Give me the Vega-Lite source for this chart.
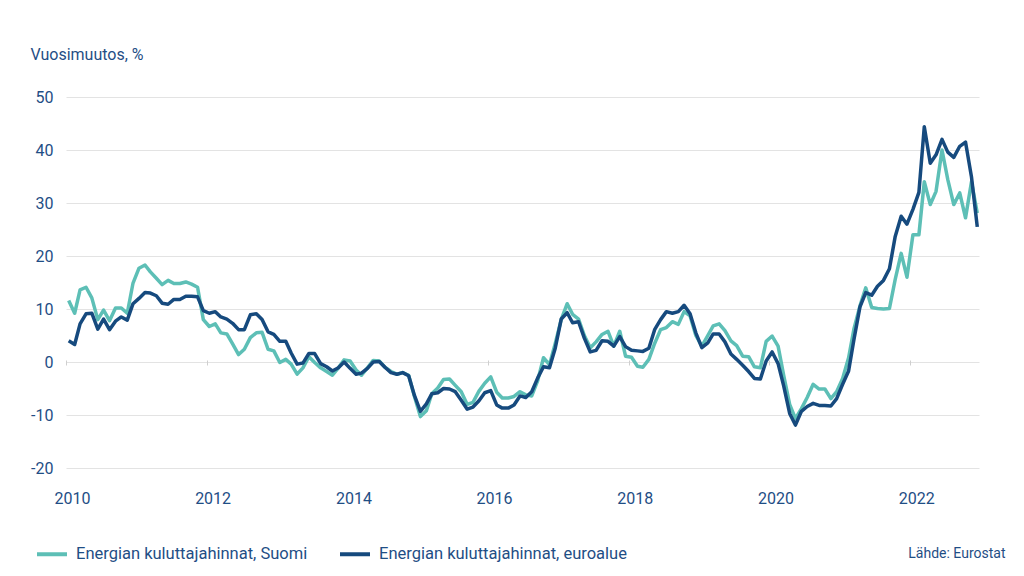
{
  "$schema": "https://vega.github.io/schema/vega-lite/v6.json",
  "width": 913,
  "height": 371,
  "autosize": {"type": "none"},
  "padding": {"left": 66, "top": 97, "right": 45, "bottom": 108},
  "background": "white",
  "config": {"font": "Roboto", "view": {"stroke": null}},
  "data": {"values": [
    {"d":"2010-01-15","fi":11.6,"ea":4.0},{"d":"2010-02-15","fi":9.2,"ea":3.3},{"d":"2010-03-15","fi":13.6,"ea":7.2},{"d":"2010-04-15","fi":14.1,"ea":9.1},{"d":"2010-05-15","fi":12.1,"ea":9.2},{"d":"2010-06-15","fi":8.0,"ea":6.2},{"d":"2010-07-15","fi":9.8,"ea":8.1},{"d":"2010-08-15","fi":7.8,"ea":6.1},{"d":"2010-09-15","fi":10.2,"ea":7.7},{"d":"2010-10-15","fi":10.2,"ea":8.5},{"d":"2010-11-15","fi":9.2,"ea":7.9},{"d":"2010-12-15","fi":14.9,"ea":11.0},
    {"d":"2011-01-15","fi":17.7,"ea":12.0},{"d":"2011-02-15","fi":18.3,"ea":13.1},{"d":"2011-03-15","fi":17.0,"ea":13.0},{"d":"2011-04-15","fi":15.8,"ea":12.5},{"d":"2011-05-15","fi":14.6,"ea":11.1},{"d":"2011-06-15","fi":15.4,"ea":10.9},{"d":"2011-07-15","fi":14.8,"ea":11.8},{"d":"2011-08-15","fi":14.8,"ea":11.8},{"d":"2011-09-15","fi":15.1,"ea":12.4},{"d":"2011-10-15","fi":14.7,"ea":12.4},{"d":"2011-11-15","fi":14.1,"ea":12.3},{"d":"2011-12-15","fi":8.0,"ea":9.7},
    {"d":"2012-01-15","fi":6.7,"ea":9.2},{"d":"2012-02-15","fi":7.2,"ea":9.5},{"d":"2012-03-15","fi":5.5,"ea":8.5},{"d":"2012-04-15","fi":5.3,"ea":8.1},{"d":"2012-05-15","fi":3.4,"ea":7.3},{"d":"2012-06-15","fi":1.4,"ea":6.1},{"d":"2012-07-15","fi":2.4,"ea":6.1},{"d":"2012-08-15","fi":4.6,"ea":8.9},{"d":"2012-09-15","fi":5.5,"ea":9.1},{"d":"2012-10-15","fi":5.6,"ea":8.0},{"d":"2012-11-15","fi":2.4,"ea":5.7},{"d":"2012-12-15","fi":2.1,"ea":5.2},
    {"d":"2013-01-15","fi":-0.1,"ea":3.9},{"d":"2013-02-15","fi":0.5,"ea":3.9},{"d":"2013-03-15","fi":-0.4,"ea":1.7},{"d":"2013-04-15","fi":-2.3,"ea":-0.4},{"d":"2013-05-15","fi":-1.1,"ea":-0.2},{"d":"2013-06-15","fi":1.0,"ea":1.6},{"d":"2013-07-15","fi":-0.1,"ea":1.6},{"d":"2013-08-15","fi":-1.1,"ea":-0.3},{"d":"2013-09-15","fi":-1.8,"ea":-0.9},{"d":"2013-10-15","fi":-2.5,"ea":-1.7},{"d":"2013-11-15","fi":-1.1,"ea":-1.1},{"d":"2013-12-15","fi":0.4,"ea":0.0},
    {"d":"2014-01-15","fi":0.2,"ea":-1.2},{"d":"2014-02-15","fi":-1.5,"ea":-2.3},{"d":"2014-03-15","fi":-2.5,"ea":-2.1},{"d":"2014-04-15","fi":-1.1,"ea":-1.2},{"d":"2014-05-15","fi":0.3,"ea":0.0},{"d":"2014-06-15","fi":0.2,"ea":0.1},{"d":"2014-07-15","fi":-1.0,"ea":-1.0},{"d":"2014-08-15","fi":-1.8,"ea":-2.0},{"d":"2014-09-15","fi":-2.3,"ea":-2.3},{"d":"2014-10-15","fi":-2.0,"ea":-2.0},{"d":"2014-11-15","fi":-2.5,"ea":-2.6},{"d":"2014-12-15","fi":-6.5,"ea":-6.3},
    {"d":"2015-01-15","fi":-10.3,"ea":-9.3},{"d":"2015-02-15","fi":-9.2,"ea":-7.9},{"d":"2015-03-15","fi":-6.0,"ea":-6.0},{"d":"2015-04-15","fi":-4.9,"ea":-5.8},{"d":"2015-05-15","fi":-3.3,"ea":-5.0},{"d":"2015-06-15","fi":-3.2,"ea":-5.1},{"d":"2015-07-15","fi":-4.4,"ea":-5.6},{"d":"2015-08-15","fi":-5.6,"ea":-7.2},{"d":"2015-09-15","fi":-8.0,"ea":-8.9},{"d":"2015-10-15","fi":-7.6,"ea":-8.5},{"d":"2015-11-15","fi":-5.5,"ea":-7.3},{"d":"2015-12-15","fi":-4.0,"ea":-5.8},
    {"d":"2016-01-15","fi":-2.8,"ea":-5.4},{"d":"2016-02-15","fi":-5.7,"ea":-8.1},{"d":"2016-03-15","fi":-6.8,"ea":-8.7},{"d":"2016-04-15","fi":-6.8,"ea":-8.7},{"d":"2016-05-15","fi":-6.5,"ea":-8.1},{"d":"2016-06-15","fi":-5.6,"ea":-6.4},{"d":"2016-07-15","fi":-6.2,"ea":-6.7},{"d":"2016-08-15","fi":-6.4,"ea":-5.6},{"d":"2016-09-15","fi":-3.5,"ea":-3.0},{"d":"2016-10-15","fi":0.8,"ea":-0.9},{"d":"2016-11-15","fi":-0.5,"ea":-1.1},{"d":"2016-12-15","fi":3.5,"ea":2.6},
    {"d":"2017-01-15","fi":8.0,"ea":8.1},{"d":"2017-02-15","fi":11.0,"ea":9.3},{"d":"2017-03-15","fi":9.0,"ea":7.4},{"d":"2017-04-15","fi":8.1,"ea":7.6},{"d":"2017-05-15","fi":5.0,"ea":4.5},{"d":"2017-06-15","fi":2.7,"ea":1.9},{"d":"2017-07-15","fi":3.8,"ea":2.2},{"d":"2017-08-15","fi":5.2,"ea":4.0},{"d":"2017-09-15","fi":5.8,"ea":3.9},{"d":"2017-10-15","fi":3.0,"ea":3.0},{"d":"2017-11-15","fi":5.8,"ea":4.8},{"d":"2017-12-15","fi":1.1,"ea":2.9},
    {"d":"2018-01-15","fi":0.9,"ea":2.2},{"d":"2018-02-15","fi":-0.8,"ea":2.1},{"d":"2018-03-15","fi":-1.0,"ea":2.0},{"d":"2018-04-15","fi":0.5,"ea":2.6},{"d":"2018-05-15","fi":3.5,"ea":6.1},{"d":"2018-06-15","fi":6.1,"ea":8.0},{"d":"2018-07-15","fi":6.5,"ea":9.5},{"d":"2018-08-15","fi":7.6,"ea":9.2},{"d":"2018-09-15","fi":7.1,"ea":9.5},{"d":"2018-10-15","fi":9.5,"ea":10.7},{"d":"2018-11-15","fi":8.7,"ea":9.1},{"d":"2018-12-15","fi":5.0,"ea":5.5},
    {"d":"2019-01-15","fi":3.0,"ea":2.7},{"d":"2019-02-15","fi":5.0,"ea":3.6},{"d":"2019-03-15","fi":6.8,"ea":5.3},{"d":"2019-04-15","fi":7.2,"ea":5.3},{"d":"2019-05-15","fi":5.9,"ea":3.8},{"d":"2019-06-15","fi":4.0,"ea":1.5},{"d":"2019-07-15","fi":3.1,"ea":0.5},{"d":"2019-08-15","fi":1.1,"ea":-0.6},{"d":"2019-09-15","fi":1.0,"ea":-1.8},{"d":"2019-10-15","fi":-0.9,"ea":-3.1},{"d":"2019-11-15","fi":-1.1,"ea":-3.2},{"d":"2019-12-15","fi":3.9,"ea":0.2},
    {"d":"2020-01-15","fi":4.9,"ea":1.9},{"d":"2020-02-15","fi":3.0,"ea":-0.3},{"d":"2020-03-15","fi":-2.5,"ea":-4.5},{"d":"2020-04-15","fi":-8.0,"ea":-9.7},{"d":"2020-05-15","fi":-10.7,"ea":-11.9},{"d":"2020-06-15","fi":-8.8,"ea":-9.3},{"d":"2020-07-15","fi":-6.7,"ea":-8.4},{"d":"2020-08-15","fi":-4.2,"ea":-7.8},{"d":"2020-09-15","fi":-5.1,"ea":-8.2},{"d":"2020-10-15","fi":-5.1,"ea":-8.2},{"d":"2020-11-15","fi":-6.9,"ea":-8.3},{"d":"2020-12-15","fi":-5.6,"ea":-6.9},
    {"d":"2021-01-15","fi":-3.1,"ea":-4.2},{"d":"2021-02-15","fi":0.8,"ea":-1.7},{"d":"2021-03-15","fi":6.3,"ea":4.3},{"d":"2021-04-15","fi":10.6,"ea":10.4},{"d":"2021-05-15","fi":14.0,"ea":13.1},{"d":"2021-06-15","fi":10.3,"ea":12.6},{"d":"2021-07-15","fi":10.1,"ea":14.3},{"d":"2021-08-15","fi":10.0,"ea":15.4},{"d":"2021-09-15","fi":10.1,"ea":17.6},{"d":"2021-10-15","fi":15.6,"ea":23.7},{"d":"2021-11-15","fi":20.5,"ea":27.5},{"d":"2021-12-15","fi":16.0,"ea":26.0},
    {"d":"2022-01-15","fi":24.0,"ea":28.8},{"d":"2022-02-15","fi":24.0,"ea":32.0},{"d":"2022-03-15","fi":34.0,"ea":44.4},{"d":"2022-04-15","fi":29.7,"ea":37.5},{"d":"2022-05-15","fi":32.2,"ea":39.1},{"d":"2022-06-15","fi":40.0,"ea":42.0},{"d":"2022-07-15","fi":34.4,"ea":39.6},{"d":"2022-08-15","fi":29.7,"ea":38.6},{"d":"2022-09-15","fi":31.9,"ea":40.7},{"d":"2022-10-15","fi":27.2,"ea":41.5},{"d":"2022-11-15","fi":34.0,"ea":34.9},{"d":"2022-12-15","fi":28.1,"ea":25.5}
  ]},
  "transform": [{"fold": ["fi", "ea"], "as": ["series", "value"]}],
  "resolve": {"axis": {"x": "independent"}},
  "layer": [
    {
      "mark": {"type": "line", "strokeOpacity": 0},
      "encoding": {
        "x": {"field": "d", "type": "temporal",
          "scale": {"type": "utc", "domain": [{"year": 2010, "month": 1, "date": 1, "utc": true}, {"year": 2022, "month": 12, "date": 24, "utc": true}]},
          "axis": {"orient": "top", "offset": -268, "labels": false, "domain": false, "grid": false, "ticks": true, "tickSize": 5, "tickColor": "#cfcfcf", "tickWidth": 1, "title": null,
            "values": [{"year":2010,"month":1,"date":1,"utc":true},{"year":2012,"month":1,"date":1,"utc":true},{"year":2014,"month":1,"date":1,"utc":true},{"year":2016,"month":1,"date":1,"utc":true},{"year":2018,"month":1,"date":1,"utc":true},{"year":2020,"month":1,"date":1,"utc":true},{"year":2022,"month":1,"date":1,"utc":true}]}},
        "y": {"field": "value", "type": "quantitative"},
        "detail": {"field": "series"}
      }
    },
    {
      "mark": {"type": "line", "strokeWidth": 3.5, "strokeJoin": "round"},
      "encoding": {
        "x": {"field": "d", "type": "temporal",
          "axis": {"orient": "bottom", "format": "%Y", "labels": true, "labelFlush": false, "ticks": false, "domain": false, "grid": false, "labelFontSize": 16, "labelColor": "#1f4e85", "labelPadding": 22, "labelOffset": 6,
            "title": "Lähde: Eurostat", "titleX": 939, "titleY": 85, "titleAlign": "right", "titleBaseline": "middle", "titleFontSize": 14, "titleFontWeight": "normal", "titleColor": "#1f4e85",
            "values": [{"year":2010,"month":1,"date":1,"utc":true},{"year":2012,"month":1,"date":1,"utc":true},{"year":2014,"month":1,"date":1,"utc":true},{"year":2016,"month":1,"date":1,"utc":true},{"year":2018,"month":1,"date":1,"utc":true},{"year":2020,"month":1,"date":1,"utc":true},{"year":2022,"month":1,"date":1,"utc":true}]}},
        "y": {"field": "value", "type": "quantitative",
          "scale": {"domain": [-20, 50], "nice": false, "zero": false},
          "axis": {"values": [-20, -10, 0, 10, 20, 30, 40, 50], "labelExpr": "'' + datum.value", "title": "Vuosimuutos, %", "titleAngle": 0, "titleX": -36, "titleY": -43, "titleAlign": "left", "titleBaseline": "middle", "titleFontSize": 16, "titleFontWeight": "normal", "titleColor": "#1f4e85", "labelFontSize": 16, "labelColor": "#1f4e85", "labelPadding": 13, "ticks": false, "domain": false, "gridColor": "#e3e3e3", "gridWidth": 1}},
        "color": {"field": "series", "type": "nominal",
          "scale": {"domain": ["fi", "ea"], "range": ["#5dbfb6", "#164a7e"]},
          "legend": {"orient": "none", "legendX": -31, "legendY": 440, "direction": "horizontal", "title": null, "symbolType": "stroke", "symbolStrokeWidth": 4, "symbolSize": 900, "labelFontSize": 16.5, "labelLimit": 0, "labelColor": "#1f4e85", "labelOffset": 7, "columnPadding": 24,
            "labelExpr": "datum.label == 'fi' ? 'Energian kuluttajahinnat, Suomi' : 'Energian kuluttajahinnat, euroalue'"}}
      }
    }
  ]
}
